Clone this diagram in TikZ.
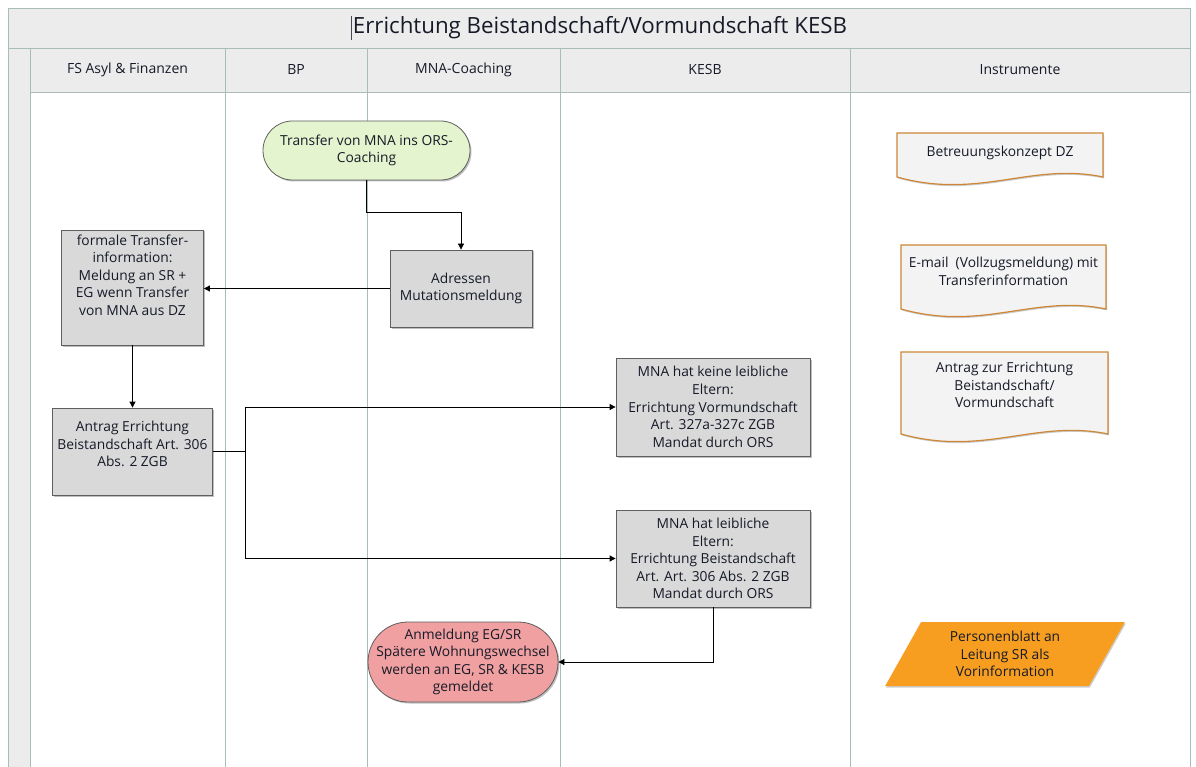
\documentclass[tikz,border=0pt]{standalone}
\usepackage{fontspec}
\setmainfont{Open Sans}
\usetikzlibrary{arrows.meta,shadows,shapes.geometric,calc,backgrounds}

\definecolor{laneline}{RGB}{170,188,186}
\definecolor{bandgray}{RGB}{236,236,236}
\definecolor{ink}{RGB}{22,26,40}
\definecolor{boxline}{RGB}{95,95,95}
\definecolor{procgray}{RGB}{217,217,217}
\definecolor{startgreen}{RGB}{228,244,206}
\definecolor{endred}{RGB}{240,160,160}
\definecolor{docline}{RGB}{205,135,55}
\definecolor{docfill}{RGB}{243,243,243}
\definecolor{dataorange}{RGB}{247,158,32}

% document symbol with a wavy lower edge: x0, y0 (top), x1, y1 (lowest point)
\newcommand\docshape[4]{%
  \pgfmathsetmacro\docw{#3-#1}%
  \draw[docbody] (#1,#2) -- (#3,#2) -- (#3,#4-7)
    .. controls ({#3-0.35*\docw},{#4-22}) and ({#1+0.4*\docw},{#4+16}) .. (#1,#4-7) -- cycle;}

\begin{document}
\begin{tikzpicture}[x=1pt,y=-1pt,
  every node/.style={font=\fontsize{13.8}{17.6}\selectfont, text=ink, align=center, inner sep=0pt},
  lane/.style={draw=laneline, line width=0.9pt},
  head/.style={font=\fontsize{14}{16}\selectfont},
  shade/.style={drop shadow={shadow xshift=1.5pt, shadow yshift=-1.5pt, opacity=0.25, fill=black}},
  proc/.style={draw=boxline, fill=procgray, line width=0.8pt, shade},
  terminal/.style={draw=boxline, line width=0.8pt, rounded corners=#1, shade},
  docbody/.style={draw=docline, fill=docfill, line width=1.2pt, drop shadow={shadow xshift=1pt, shadow yshift=-1.5pt, opacity=0.2, fill=black}},
  flow/.style={draw=black, line width=0.8pt, -{Triangle[width=6pt,length=6pt]}},
  link/.style={draw=black, line width=0.8pt}
]
\useasboundingbox (0,0) rectangle (1196,767);

% swimlane frame
\begin{scope}[on background layer]
  \fill[white] (8,8) rectangle (1190,767);
  \fill[bandgray] (8,8) rectangle (1190,92);
  \fill[bandgray] (8,48) rectangle (30,767);
  \draw[lane] (8,767) -- (8,8) -- (1190,8) -- (1190,767);
  \draw[lane] (8,48) -- (1190,48);
  \draw[lane] (30,92) -- (1190,92);
  \foreach \lx in {30,225,367,560,850} \draw[lane] (\lx,48) -- (\lx,767);
  % document symbols in the "Instrumente" lane
  \docshape{897}{133}{1103}{184}
  \docshape{901}{245}{1106}{316}
  \docshape{901}{352}{1108}{441}
\end{scope}

% title and lane headers
\node[font=\fontsize{22.3}{26}\selectfont] (title) at (600,28) {Errichtung Beistandschaft/Vormundschaft KESB};
\draw[ink!80, line width=0.6pt] ($(title.west)+(-1,-12)$) -- ++(0,24);
\node[head] (h1) at (127.5,70) {FS Asyl \& Finanzen};
\node[head] (h2) at (296,70) {BP};
\node[head] (h3) at (463.5,70) {MNA-Coaching};
\node[head] (h4) at (705,70) {KESB};
\node[head] (h5) at (1020,70) {Instrumente};

% process steps
\node[terminal=29.5pt, fill=startgreen, minimum width=207pt, minimum height=59pt] (tr) at (366.5,150.5)
  {Transfer von MNA ins ORS-\\Coaching};
\node[proc, minimum width=142pt, minimum height=77pt] (ad) at (461,288.5)
  {Adressen\\Mutationsmeldung};
\node[proc, minimum width=142pt, minimum height=115pt] (fti) at (132.5,287.5) {};
\node (ftitext) at (132.5,275) {formale Transfer-\\information:\\Meldung an SR +\\EG wenn Transfer\\von MNA aus DZ};
\node[proc, minimum width=160pt, minimum height=87pt] (an) at (132.5,451.5) {};
\node (antext) at (132.5,444) {Antrag Errichtung\\Beistandschaft Art. 306\\Abs. 2 ZGB};
\node[proc, minimum width=194pt, minimum height=98pt] (k1) at (713,407)
  {MNA hat keine leibliche\\Eltern:\\Errichtung Vormundschaft\\Art. 327a-327c ZGB\\Mandat durch ORS};
\node[proc, minimum width=194pt, minimum height=97pt] (k2) at (713,558.5)
  {MNA hat leibliche\\Eltern:\\Errichtung Beistandschaft\\Art. Art. 306 Abs. 2 ZGB\\Mandat durch ORS};
\node[terminal=40pt, fill=endred, minimum width=190pt, minimum height=80pt] (am) at (463,662)
  {Anmeldung EG/SR\\Spätere Wohnungswechsel\\werden an EG, SR \& KESB\\gemeldet};

% instruments
\node (d1) at (1000,153) {Betreuungskonzept DZ};
\node (d2) at (1003.5,271.5) {E-mail\ \ (Vollzugsmeldung) mit\\Transferinformation};
\node (d3) at (1004.5,385) {Antrag zur Errichtung\\Beistandschaft/\\Vormundschaft};
\node[trapezium, trapezium left angle=62.7, trapezium right angle=117.3, trapezium stretches=true,
  fill=dataorange, minimum width=240pt, minimum height=64pt,
  drop shadow={shadow xshift=1pt, shadow yshift=-1.5pt, opacity=0.2, fill=black}] (pb) at (1005,654)
  {Personenblatt an\\Leitung SR als\\Vorinformation};

% connectors
\draw[flow] (tr.south) -- ++(0,32) -| (ad.north);
\draw[flow] (ad.west) -- (ad.west -| fti.east);
\draw[flow] (fti.south) -- (an.north);
\coordinate (split) at (245,451.5);
\draw[link] (an.east) -- (split);
\draw[flow] (split) |- (k1.west);
\draw[flow] (split) |- (k2.west);
\draw[flow] (k2.south) |- (am.east);
\end{tikzpicture}
\end{document}
